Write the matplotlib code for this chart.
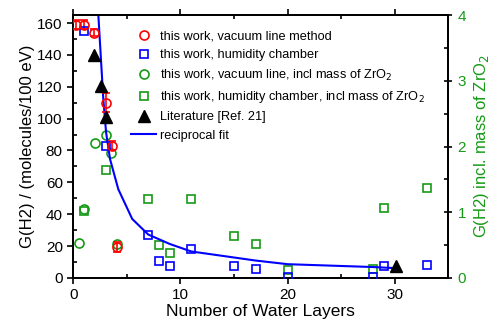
import matplotlib
matplotlib.use("Agg")
import matplotlib.pyplot as plt
from matplotlib.lines import Line2D
from matplotlib.ticker import MultipleLocator

plt.rcParams['font.family'] = ['Liberation Sans', 'DejaVu Sans']

# this work, vacuum line method (left axis)
red_x = [0.3, 1.0, 1.96, 3.1, 3.6, 4.05]
red_y = [159, 159, 154, 110, 83, 19.4]
red_err = [3, 3, 2, 6, 3, 3]

# this work, humidity chamber (left axis)
blue_x = [1.0, 3.06, 7.0, 7.98, 9.04, 11.0, 14.95, 17.0, 20.0, 28.0, 28.97, 32.96]
blue_y = [155, 83, 26.8, 10.3, 7.6, 18, 7.6, 5.7, 0.8, 0.8, 7.6, 7.8]

# incl. mass of ZrO2 (right axis)
gcirc_x = [0.53, 1.0, 2.03, 3.06, 3.52, 4.05]
gcirc_y = [0.53, 1.05, 2.05, 2.18, 1.9, 0.51]
gsq_x = [1.0, 3.03, 6.98, 8.0, 9.04, 11.0, 14.95, 17.0, 20.0, 28.0, 28.97, 32.96]
gsq_y = [1.02, 1.64, 1.2, 0.505, 0.38, 1.2, 0.64, 0.51, 0.12, 0.13, 1.06, 1.37]

# Literature [Ref. 21]
lit_x = [1.96, 2.56, 3.1, 30.06]
lit_y = [140, 120.6, 101, 7.2]

# reciprocal fit
fit_x = [2.34, 2.8, 3.06, 3.43, 4.2, 5.5, 7.0, 9.0, 11.0, 15.0, 17.0, 20.0, 28.0, 29.8]
fit_y = [165, 112.6, 91.5, 74.6, 55.7, 37, 27.2, 21.3, 16.6, 12.8, 10.9, 8.6, 6.8, 6.2]

green = '#159a15'

fig = plt.figure(figsize=(4.95, 3.22), dpi=100)
ax = fig.add_axes([0.148, 0.137, 0.758, 0.816])
ax2 = ax.twinx()

ax.plot(fit_x, fit_y, color='blue', lw=1.5, zorder=2)
ax.errorbar(red_x, red_y, yerr=red_err, fmt='o', ms=6.5, mfc='none', mec='red',
            mew=1.2, ecolor='red', elinewidth=1.2, capsize=3, zorder=3)
ax.plot(blue_x, blue_y, 's', ms=6, mfc='none', mec='blue', mew=1.2, zorder=3)
ax.plot(lit_x, lit_y, '^', ms=8, color='black', zorder=4)

ax2.plot(gcirc_x, gcirc_y, 'o', ms=6.5, mfc='none', mec=green, mew=1.2)
ax2.plot(gsq_x, gsq_y, 's', ms=6, mfc='none', mec=green, mew=1.2)

ax.set_xlim(0, 35)
ax.set_ylim(0, 165)
ax2.set_ylim(0, 4)
ax.set_zorder(ax2.get_zorder() + 1)
ax.patch.set_visible(False)

ax.xaxis.set_major_locator(MultipleLocator(10))
ax.xaxis.set_minor_locator(MultipleLocator(5))
ax.yaxis.set_major_locator(MultipleLocator(20))
ax.yaxis.set_minor_locator(MultipleLocator(10))
ax2.yaxis.set_major_locator(MultipleLocator(1))
ax2.yaxis.set_minor_locator(MultipleLocator(0.5))

ax.tick_params(axis='both', which='major', direction='out', length=4, width=1.2,
               labelsize=11, top=False)
ax.tick_params(axis='both', which='minor', direction='in', length=3, width=1.2)
ax.tick_params(axis='x', which='both', top=True)
ax2.tick_params(axis='y', which='major', direction='inout', length=6, width=1.2,
                labelsize=11, labelcolor=green)
ax2.tick_params(axis='y', which='minor', direction='in', length=3, width=1.2)
for a in (ax, ax2):
    for s in a.spines.values():
        s.set_linewidth(1.3)

ax.set_xlabel('Number of Water Layers', fontsize=12.5, labelpad=1)
ax.set_ylabel('G(H2) / (molecules/100 eV)', fontsize=12, labelpad=2)
ax2.set_ylabel('G(H2) incl. mass of ZrO$_2$', fontsize=12, color=green, labelpad=4)

handles = [
    Line2D([], [], ls='none', marker='o', ms=6.5, mfc='none', mec='red', mew=1.2),
    Line2D([], [], ls='none', marker='s', ms=6, mfc='none', mec='blue', mew=1.2),
    Line2D([], [], ls='none', marker='o', ms=6.5, mfc='none', mec=green, mew=1.2),
    Line2D([], [], ls='none', marker='s', ms=6, mfc='none', mec=green, mew=1.2),
    Line2D([], [], ls='none', marker='^', ms=8, color='black'),
    Line2D([], [], color='blue', lw=1.5),
]
labels = ['this work, vacuum line method',
          'this work, humidity chamber',
          'this work, vacuum line, incl mass of ZrO$_2$',
          'this work, humidity chamber, incl mass of ZrO$_2$',
          'Literature [Ref. 21]',
          'reciprocal fit']
ax.legend(handles, labels, loc='upper left', bbox_to_anchor=(0.14, 0.96),
          frameon=False, fontsize=9.2, handlelength=2.0, handletextpad=0.3,
          labelspacing=0.5, borderaxespad=0)

fig.savefig('out.png', dpi=100)
